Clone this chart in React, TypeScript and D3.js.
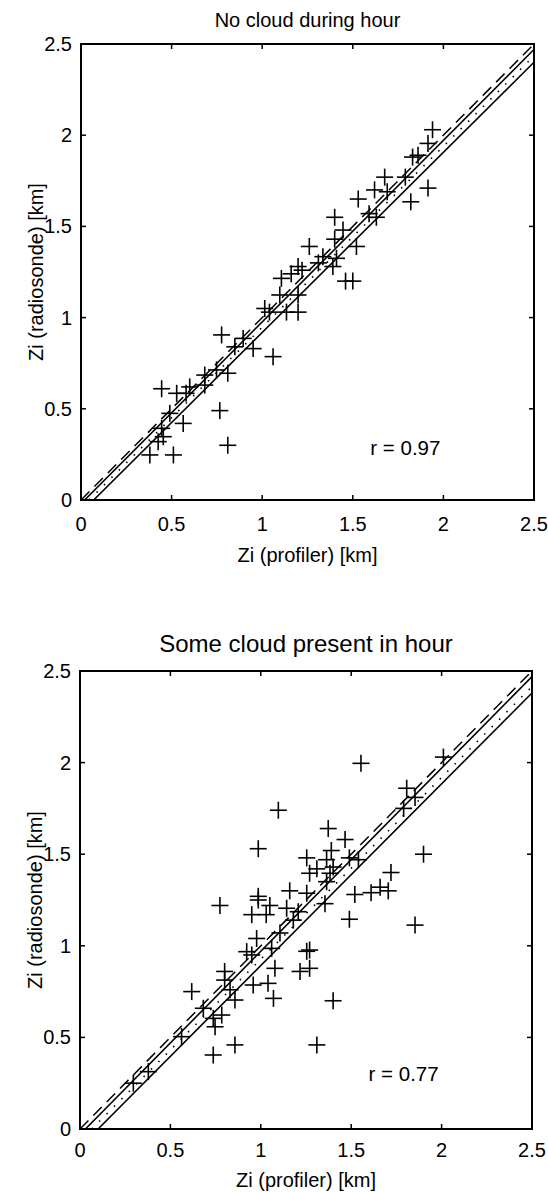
import React from "react";
import * as d3 from "d3";

// ---------- data ----------
const ticks = [0, 0.5, 1, 1.5, 2, 2.5];
const tickLabels = ["0", "0.5", "1", "1.5", "2", "2.5"];

const topTitle = "No cloud during hour";
const bottomTitle = "Some cloud present in hour";
const xLabel = "Zi (profiler) [km]";
const yLabel = "Zi (radiosonde) [km]";

const topX = [1.94, 1.915, 1.83, 1.86, 1.915, 1.82, 1.676, 1.79, 1.62, 1.69, 1.53, 1.59, 1.63, 1.40, 1.446, 1.40, 1.52, 1.26, 1.41, 1.335, 1.39, 1.31, 1.46, 1.50, 1.198, 1.16, 1.106, 1.097, 1.198, 1.198, 1.134, 1.04, 1.014, 1.06, 0.776, 0.895, 0.849, 0.95, 0.81, 0.748, 0.683, 0.683, 0.60, 0.58, 0.445, 0.528, 0.49, 0.564, 0.445, 0.454, 0.426, 0.38, 0.51, 0.766, 0.81, 1.22];
const topY = [2.03, 1.955, 1.88, 1.89, 1.71, 1.635, 1.77, 1.77, 1.70, 1.69, 1.65, 1.57, 1.55, 1.55, 1.48, 1.43, 1.39, 1.39, 1.325, 1.334, 1.28, 1.30, 1.20, 1.20, 1.28, 1.24, 1.215, 1.124, 1.124, 1.03, 1.03, 1.03, 1.05, 0.786, 0.905, 0.886, 0.84, 0.83, 0.695, 0.713, 0.685, 0.63, 0.62, 0.585, 0.61, 0.585, 0.475, 0.42, 0.393, 0.347, 0.32, 0.247, 0.247, 0.49, 0.30, 1.26];

const botX = [1.097, 0.986, 1.254, 1.16, 1.254, 0.986, 0.774, 1.554, 2.01, 1.807, 1.853, 1.79, 1.373, 1.466, 1.90, 1.39, 1.364, 1.49, 1.54, 1.31, 1.40, 1.27, 1.383, 1.72, 1.364, 1.66, 1.705, 1.61, 1.52, 0.986, 1.05, 0.95, 1.03, 1.143, 1.207, 1.18, 1.254, 1.217, 1.106, 0.977, 1.06, 0.922, 0.95, 1.078, 0.958, 1.04, 1.07, 0.80, 0.80, 0.83, 0.857, 0.618, 0.682, 0.784, 0.737, 0.747, 0.562, 0.857, 0.737, 0.378, 0.295, 1.49, 1.853, 1.27, 1.27, 1.40, 1.31, 1.355];
const botY = [1.74, 1.53, 1.48, 1.30, 1.287, 1.27, 1.22, 1.996, 2.03, 1.86, 1.81, 1.75, 1.64, 1.58, 1.50, 1.52, 1.47, 1.48, 1.47, 1.42, 1.43, 1.396, 1.396, 1.40, 1.35, 1.32, 1.30, 1.29, 1.28, 1.25, 1.22, 1.17, 1.17, 1.205, 1.186, 1.14, 0.97, 0.86, 1.07, 1.04, 0.986, 0.968, 0.95, 0.877, 0.786, 0.795, 0.713, 0.86, 0.813, 0.76, 0.704, 0.75, 0.659, 0.622, 0.604, 0.558, 0.504, 0.459, 0.404, 0.313, 0.25, 1.145, 1.113, 0.977, 0.877, 0.70, 0.459, 1.23];

// fit lines: [x0, y0, x1, y1]
const topDashed = [0, 0, 2.5, 2.5];
const topSolidUpper = [0.02, 0, 2.5, 2.47];
const topDotted = [0.045, 0, 2.5, 2.435];
const topSolidLower = [0.07, 0, 2.5, 2.40];

const botDashed = [0, 0, 2.5, 2.5];
const botSolidUpper = [0.03, 0, 2.5, 2.47];
const botDotted = [0.065, 0, 2.5, 2.415];
const botSolidLower = [0.10, 0, 2.5, 2.38];

const topR = "r = 0.97";
const botR = "r = 0.77";

const FONT = "'Liberation Sans', Arial, Helvetica, sans-serif";

type PanelProps = {
  left: number; top: number; width: number; height: number;
  title: string; titleSize: number; titleOff: number;
  xs: number[]; ys: number[];
  dashed: number[]; solidU: number[]; dotted: number[]; solidL: number[];
  rText: string; id: string; tickOff: number; labelOff: number; rY: number;
};

function Panel(p: PanelProps) {
  const x = d3.scaleLinear().domain([0, 2.5]).range([p.left, p.left + p.width]);
  const y = d3.scaleLinear().domain([0, 2.5]).range([p.top + p.height, p.top]);
  const seg = (s: number[]) => d3.line<number[]>().x(d => x(d[0])).y(d => y(d[1]))([[s[0], s[1]], [s[2], s[3]]]) || "";
  const arm = 8.5;
  const tl = 5;
  const fs = 20;
  return (
    <g>
      <defs>
        <clipPath id={p.id}>
          <rect x={p.left} y={p.top} width={p.width} height={p.height} />
        </clipPath>
      </defs>
      <text x={x(1.25)} y={p.top - p.titleOff} textAnchor="middle" fontFamily={FONT} fontSize={p.titleSize}>{p.title}</text>
      <g clipPath={`url(#${p.id})`} fill="none" stroke="#000">
        <path d={seg(p.dashed)} strokeWidth={1.5} strokeDasharray="12,7" />
        <path d={seg(p.solidU)} strokeWidth={1.6} />
        <path d={seg(p.dotted)} strokeWidth={1.6} strokeDasharray="1.5,9" />
        <path d={seg(p.solidL)} strokeWidth={1.6} />
      </g>
      <g stroke="#000" strokeWidth={1.6}>
        {p.xs.map((v, i) => (
          <g key={i}>
            <line x1={x(v) - arm} x2={x(v) + arm} y1={y(p.ys[i])} y2={y(p.ys[i])} />
            <line x1={x(v)} x2={x(v)} y1={y(p.ys[i]) - arm} y2={y(p.ys[i]) + arm} />
          </g>
        ))}
      </g>
      <rect x={p.left} y={p.top} width={p.width} height={p.height} fill="none" stroke="#000" strokeWidth={2} />
      <g stroke="#000" strokeWidth={1.5}>
        {ticks.map((t, i) => (
          <g key={i}>
            <line x1={x(t)} x2={x(t)} y1={p.top + p.height} y2={p.top + p.height - tl} />
            <line x1={x(t)} x2={x(t)} y1={p.top} y2={p.top + tl} />
            <line x1={p.left} x2={p.left + tl} y1={y(t)} y2={y(t)} />
            <line x1={p.left + p.width} x2={p.left + p.width - tl} y1={y(t)} y2={y(t)} />
          </g>
        ))}
      </g>
      <g fontFamily={FONT} fontSize={fs}>
        {ticks.map((t, i) => (
          <text key={"x" + i} x={x(t)} y={p.top + p.height + p.tickOff} textAnchor="middle">{tickLabels[i]}</text>
        ))}
        {ticks.map((t, i) => (
          <text key={"y" + i} x={p.left - 9} y={y(t) + 7} textAnchor="end">{tickLabels[i]}</text>
        ))}
      </g>
      <text x={x(1.25)} y={p.top + p.height + p.labelOff} textAnchor="middle" fontFamily={FONT} fontSize={fs}>{xLabel}</text>
      <text transform={`translate(${p.left - 38},${y(1.25)}) rotate(-90)`} textAnchor="middle" fontFamily={FONT} fontSize={fs}>{yLabel}</text>
      <text x={x(1.79)} y={y(p.rY)} textAnchor="middle" fontFamily={FONT} fontSize={20.5}>{p.rText}</text>
    </g>
  );
}

export default function App() {
  return (
    <svg width={548} height={1192} style={{ position: "absolute", left: 0, top: 0, background: "#fff" }}>
      <rect x={0} y={0} width={548} height={1192} fill="#fff" />
      <Panel id="c1" left={81} top={44} width={453} height={456} title={topTitle} titleSize={20} titleOff={17}
        xs={topX} ys={topY} dashed={topDashed} solidU={topSolidUpper} dotted={topDotted} solidL={topSolidLower}
        rText={topR} tickOff={31} labelOff={62} rY={0.245} />
      <Panel id="c2" left={80} top={671} width={452} height={458} title={bottomTitle} titleSize={24} titleOff={19}
        xs={botX} ys={botY} dashed={botDashed} solidU={botSolidUpper} dotted={botDotted} solidL={botSolidLower}
        rText={botR} tickOff={28} labelOff={58} rY={0.26} />
    </svg>
  );
}
